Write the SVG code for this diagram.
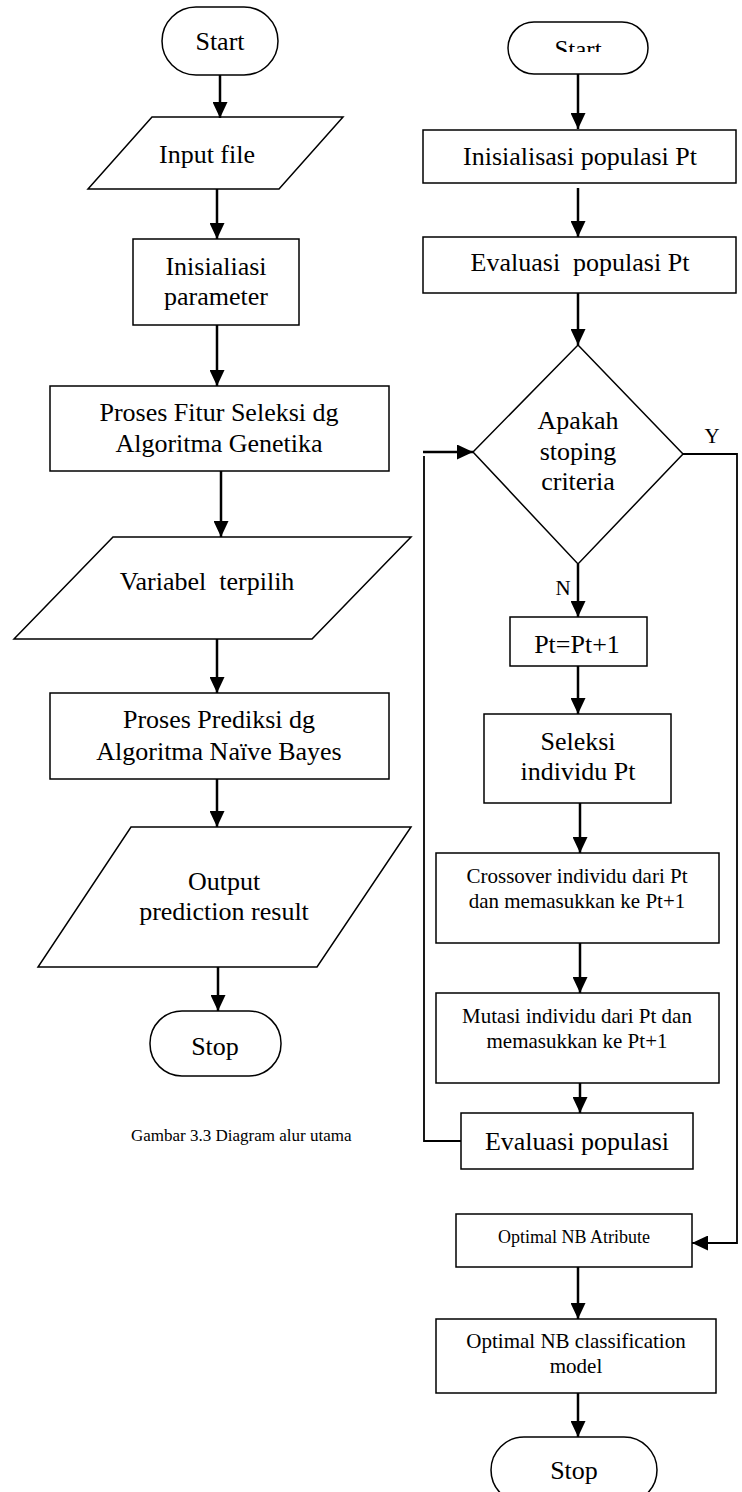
<svg xmlns="http://www.w3.org/2000/svg" width="742" height="1492" viewBox="0 0 742 1492">
  <style>
    .shape { fill: #fff; stroke: #000; stroke-width: 1.5; }
    .conn { fill: none; stroke: #000; stroke-width: 2.5; }
    .wire { fill: none; stroke: #000; stroke-width: 1.8; }
    text { font-family: "Liberation Serif", "Times New Roman", serif; fill: #000; text-anchor: middle; white-space: pre; }
    .t26 { font-size: 26px; }
    .t25 { font-size: 25px; }
    .t21 { font-size: 21px; }
    .t18 { font-size: 18px; }
    .t17 { font-size: 17px; }
  </style>
  <defs>
    <marker id="arrow" markerUnits="userSpaceOnUse" viewBox="0 0 16 15" refX="16" refY="7.5" markerWidth="16" markerHeight="15" orient="auto">
      <path d="M0,0 L16,7.5 L0,15 Z" fill="#000"/>
    </marker>
    <clipPath id="startClip">
      <rect x="500" y="20" width="160" height="32"/>
    </clipPath>
  </defs>

  <rect width="742" height="1492" fill="#fff"/>

  <!-- main flow (left) -->
  <g id="main-start">
    <rect class="shape" x="162" y="7" width="116" height="68" rx="34" ry="34"/>
    <text class="t26" x="220" y="50">Start</text>
  </g>
  <g id="main-input">
    <polygon class="shape" points="152,117 343,117 279,189 88,189"/>
    <text class="t26" x="207" y="163">Input file</text>
  </g>
  <g id="main-init">
    <rect class="shape" x="133" y="239" width="166" height="86"/>
    <text class="t26" x="216" y="275">Inisialiasi</text>
    <text class="t26" x="216" y="305">parameter</text>
  </g>
  <g id="main-ga">
    <rect class="shape" x="50" y="386" width="339" height="85"/>
    <text class="t26" x="219" y="421">Proses Fitur Seleksi dg</text>
    <text class="t26" x="219" y="452">Algoritma Genetika</text>
  </g>
  <g id="main-vars">
    <polygon class="shape" points="113,537 411,537 312,639 14,639"/>
    <text class="t26" x="207" y="590">Variabel  terpilih</text>
  </g>
  <g id="main-nb">
    <rect class="shape" x="50" y="693" width="339" height="86"/>
    <text class="t26" x="219" y="728">Proses Prediksi dg</text>
    <text class="t26" x="219" y="760">Algoritma Naïve Bayes</text>
  </g>
  <g id="main-output">
    <polygon class="shape" points="131,827 411,827 317,967 38,967"/>
    <text class="t26" x="224" y="890">Output</text>
    <text class="t26" x="224" y="920">prediction result</text>
  </g>
  <g id="main-stop">
    <rect class="shape" x="150" y="1011" width="131" height="65" rx="32" ry="32"/>
    <text class="t26" x="215" y="1055">Stop</text>
  </g>
  <g id="main-caption">
    <text class="t17" x="131" y="1141" style="text-anchor:start">Gambar 3.3 Diagram alur utama</text>
  </g>

  <!-- genetic algorithm flow (right) -->
  <g id="ga-start">
    <rect class="shape" x="508" y="22" width="140" height="52" rx="26" ry="26"/>
    <text class="t25" x="578" y="58" clip-path="url(#startClip)">Start</text>
  </g>
  <g id="ga-init">
    <rect class="shape" x="423" y="130" width="313" height="53"/>
    <text class="t26" x="580" y="165">Inisialisasi populasi Pt</text>
  </g>
  <g id="ga-eval">
    <rect class="shape" x="423" y="237" width="313" height="56"/>
    <text class="t26" x="580" y="271">Evaluasi  populasi Pt</text>
  </g>
  <g id="ga-decision">
    <polygon class="shape" points="578,345 683,454 578,564 473,452"/>
    <text class="t26" x="578" y="429">Apakah</text>
    <text class="t26" x="578" y="460">stoping</text>
    <text class="t26" x="578" y="490">criteria</text>
  </g>
  <g id="ga-next">
    <rect class="shape" x="510" y="617" width="137" height="49"/>
    <text class="t26" x="577" y="653">Pt=Pt+1</text>
  </g>
  <g id="ga-select">
    <rect class="shape" x="484" y="714" width="187" height="89"/>
    <text class="t26" x="578" y="750">Seleksi</text>
    <text class="t26" x="578" y="780">individu Pt</text>
  </g>
  <g id="ga-crossover">
    <rect class="shape" x="436" y="853" width="283" height="90"/>
    <text class="t21" x="577" y="883">Crossover individu dari Pt</text>
    <text class="t21" x="577" y="908">dan memasukkan ke Pt+1</text>
  </g>
  <g id="ga-mutation">
    <rect class="shape" x="436" y="993" width="283" height="90"/>
    <text class="t21" x="577" y="1023">Mutasi individu dari Pt dan</text>
    <text class="t21" x="577" y="1048">memasukkan ke Pt+1</text>
  </g>
  <g id="ga-reeval">
    <rect class="shape" x="461" y="1113" width="232" height="56"/>
    <text class="t26" x="577" y="1150">Evaluasi populasi</text>
  </g>
  <g id="ga-attr">
    <rect class="shape" x="456" y="1214" width="236" height="53"/>
    <text class="t18" x="574" y="1243">Optimal NB Atribute</text>
  </g>
  <g id="ga-model">
    <rect class="shape" x="436" y="1319" width="280" height="74"/>
    <text class="t21" x="576" y="1348">Optimal NB classification</text>
    <text class="t21" x="576" y="1373">model</text>
  </g>
  <g id="ga-stop">
    <rect class="shape" x="491" y="1437" width="166" height="66" rx="33" ry="33"/>
    <text class="t26" x="574" y="1479">Stop</text>
  </g>

  <!-- connectors -->
  <g id="connectors">
    <line class="conn" x1="220" y1="75" x2="220" y2="118" marker-end="url(#arrow)"/>
    <line class="conn" x1="217" y1="189" x2="217" y2="239" marker-end="url(#arrow)"/>
    <line class="conn" x1="217" y1="325" x2="217" y2="386" marker-end="url(#arrow)"/>
    <line class="conn" x1="221" y1="471" x2="221" y2="537" marker-end="url(#arrow)"/>
    <line class="conn" x1="217" y1="639" x2="217" y2="693" marker-end="url(#arrow)"/>
    <line class="conn" x1="217" y1="779" x2="217" y2="827" marker-end="url(#arrow)"/>
    <line class="conn" x1="218" y1="967" x2="218" y2="1011" marker-end="url(#arrow)"/>

    <line class="conn" x1="578" y1="74" x2="578" y2="129" marker-end="url(#arrow)"/>
    <line class="conn" x1="578" y1="188" x2="578" y2="237" marker-end="url(#arrow)"/>
    <line class="conn" x1="578" y1="293" x2="578" y2="345" marker-end="url(#arrow)"/>
    <line class="conn" x1="578" y1="564" x2="578" y2="617" marker-end="url(#arrow)"/>
    <line class="conn" x1="578" y1="666" x2="578" y2="714" marker-end="url(#arrow)"/>
    <line class="conn" x1="580" y1="803" x2="580" y2="853" marker-end="url(#arrow)"/>
    <line class="conn" x1="580" y1="943" x2="580" y2="993" marker-end="url(#arrow)"/>
    <line class="conn" x1="580" y1="1083" x2="580" y2="1113" marker-end="url(#arrow)"/>
    <line class="conn" x1="578" y1="1267" x2="578" y2="1319" marker-end="url(#arrow)"/>
    <line class="conn" x1="578" y1="1393" x2="578" y2="1437" marker-end="url(#arrow)"/>

    <!-- Y branch: decision to optimal attributes -->
    <polyline class="wire" points="683,454 737,454 737,1243 692,1243" marker-end="url(#arrow)"/>
    <!-- loop back: re-evaluation to decision -->
    <polyline class="wire" points="461,1141 424,1141 424,456"/>
    <line class="conn" x1="423" y1="452" x2="473" y2="452" marker-end="url(#arrow)"/>

    <text class="t21" x="712" y="443">Y</text>
    <text class="t21" x="563" y="595">N</text>
  </g>
</svg>
